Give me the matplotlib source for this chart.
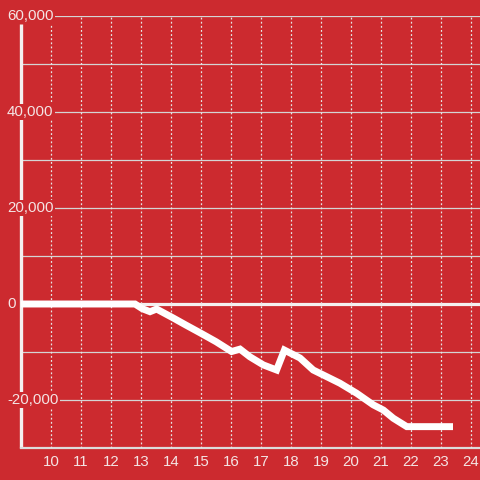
import matplotlib
matplotlib.use("Agg")
import matplotlib.pyplot as plt
from matplotlib.transforms import blended_transform_factory

# Data
x_vals = [9.0, 12.8, 13.05, 13.3, 13.52, 14.07, 14.5, 14.97, 15.5, 16.02, 16.3,
          16.63, 17.08, 17.52, 17.78, 18.3, 18.74, 19.08, 19.63, 20.19, 20.74,
          21.08, 21.41, 21.86, 23.4]
y_vals = [0, 0, -1000, -1600, -1050, -2900, -4400, -6000, -7850, -9900, -9400,
          -11000, -12700, -13750, -9600, -11250, -13750, -14800, -16500, -18600,
          -21000, -22100, -23800, -25550, -25550]
x_ticks = list(range(10, 25))
y_label_vals = [-20000, 0, 20000, 40000, 60000]
y_grid_vals = [-20000, -10000, 10000, 20000, 30000, 40000, 50000, 60000]

BG = "#cc2a2f"
TXT = "#f4e4e4"

plt.rcParams["font.family"] = ["Liberation Sans", "DejaVu Sans"]
fig = plt.figure(figsize=(4.8, 4.8), dpi=100, facecolor=BG)
ax = fig.add_axes([21/480, 32/480, 459/480, 432/480])
ax.set_facecolor(BG)
ax.set_xlim(9.0, 24.3)
ax.set_ylim(-30000, 60000)
for s in ["top", "right", "left"]:
    ax.spines[s].set_visible(False)
ax.spines["bottom"].set_color("#dcdcdc")
ax.spines["bottom"].set_linewidth(1.6)
ax.tick_params(axis="both", length=0)
ax.set_yticks([])
ax.set_xticks(x_ticks)
ax.set_xticklabels([str(t) for t in x_ticks], color=TXT, fontsize=10.8)
ax.tick_params(axis="x", pad=5)

# horizontal gridlines
for g in y_grid_vals:
    ax.axhline(g, color="#d4d4d4", lw=0.9, zorder=1)
# zero line
ax.axhline(0, color="#f4f0f0", lw=2.3, zorder=2)

# left spine
ax.plot([9.0, 9.0], [-30000, 58300], color="#f4f0f0", lw=2.4, zorder=2,
        clip_on=False, solid_capstyle="butt")

# vertical dotted gridlines
for t in x_ticks:
    ax.axvline(t, color="#e6e6e6", lw=0.9, ls=(0, (1.5, 1.8)), zorder=3)

# data line
ax.plot(x_vals, y_vals, color="white", lw=5, zorder=5,
        solid_capstyle="butt", solid_joinstyle="miter")

# y labels with background
tr = blended_transform_factory(fig.transFigure, ax.transData)
for v in y_label_vals:
    ax.text(7/480, v, f"{v:,}", transform=tr, ha="left", va="center",
            color=TXT, fontsize=10.8, zorder=6,
            bbox=dict(facecolor=BG, edgecolor="none", pad=1.0))

fig.savefig("out.png", dpi=100, facecolor=BG)
